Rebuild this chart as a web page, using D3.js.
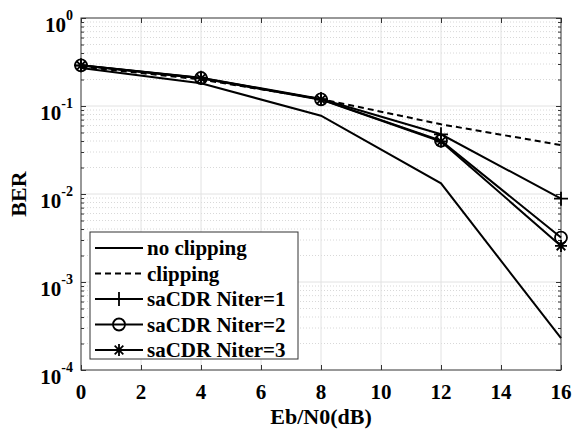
<!DOCTYPE html>
<html><head><meta charset="utf-8">
<script src="https://cdn.jsdelivr.net/npm/d3@7"></script>
<style>body{margin:0;background:#fff}svg{display:block}text{font-family:"Liberation Serif","Times New Roman",serif;font-weight:bold;fill:#000}</style>
</head><body><svg id="c" width="582" height="433" font-family="Liberation Serif"></svg>
<script>
const snr = [0, 4, 8, 12, 16];
const noClipping = [0.27, 0.181, 0.0776, 0.0132, 0.00023];
const clipping = [0.28, 0.200, 0.120, 0.062, 0.036];
const niter1 = [0.29, 0.210, 0.120, 0.0477, 0.00885];
const niter2 = [0.29, 0.208, 0.119, 0.0403, 0.0032];
const niter3 = [0.288, 0.206, 0.118, 0.0395, 0.00257];
const xTicks = [0, 2, 4, 6, 8, 10, 12, 14, 16];
const yExps = [0, -1, -2, -3, -4];
const seriesNames = ["no clipping", "clipping", "saCDR Niter=1", "saCDR Niter=2", "saCDR Niter=3"];

const L = 81, R = 561, T = 18, B = 370;
const svg = d3.select("#c");
const x = d3.scaleLinear().domain([0, 16]).range([L, R]);
const y = d3.scaleLog().domain([1e-4, 1]).range([B, T]);

// grid
const g = svg.append("g");
for (let e = -4; e < 0; e++) {
  for (let m = 2; m <= 9; m++) {
    const v = m * Math.pow(10, e);
    g.append("line").attr("x1", L).attr("x2", R).attr("y1", y(v)).attr("y2", y(v))
      .attr("stroke", "#d8d8d8").attr("stroke-width", 1).attr("stroke-dasharray", "1,2");
  }
}
xTicks.forEach(t => {
  if (t > 0 && t < 16) g.append("line").attr("x1", x(t)).attr("x2", x(t)).attr("y1", T).attr("y2", B)
    .attr("stroke", "#e2e2e2").attr("stroke-width", 1);
});
yExps.forEach(e => {
  if (e < 0 && e > -4) g.append("line").attr("x1", L).attr("x2", R).attr("y1", y(Math.pow(10, e))).attr("y2", y(Math.pow(10, e)))
    .attr("stroke", "#e2e2e2").attr("stroke-width", 1);
});

// axes with inward ticks
const axB = d3.axisBottom(x).tickValues(xTicks).tickSize(-5).tickFormat("");
const axT = d3.axisTop(x).tickValues(xTicks).tickSize(-5).tickFormat("");
svg.append("g").attr("transform", `translate(0,${B})`).call(axB);
svg.append("g").attr("transform", `translate(0,${T})`).call(axT);
const minorVals = [];
for (let e = -4; e < 0; e++) for (let m = 2; m <= 9; m++) minorVals.push(m * Math.pow(10, e));
const majorVals = yExps.map(e => Math.pow(10, e));
svg.append("g").attr("transform", `translate(${L},0)`).call(d3.axisLeft(y).tickValues(majorVals).tickSize(-5).tickFormat(""));
svg.append("g").attr("transform", `translate(${L},0)`).call(d3.axisLeft(y).tickValues(minorVals).tickSize(-3).tickFormat(""));
svg.append("g").attr("transform", `translate(${R},0)`).call(d3.axisRight(y).tickValues(majorVals).tickSize(-5).tickFormat(""));
svg.append("g").attr("transform", `translate(${R},0)`).call(d3.axisRight(y).tickValues(minorVals).tickSize(-3).tickFormat(""));
svg.selectAll(".tick line").attr("stroke", "#333");
svg.selectAll(".domain").remove();
svg.append("rect").attr("x", L).attr("y", T).attr("width", R - L).attr("height", B - T)
  .attr("fill", "none").attr("stroke", "#333").attr("stroke-width", 1);

// tick labels
xTicks.forEach(t => {
  svg.append("text").attr("x", x(t)).attr("y", B + 29).attr("text-anchor", "middle")
    .attr("font-size", 21).text(t);
});
yExps.forEach(e => {
  const t = svg.append("text").attr("x", L - 8).attr("y", y(Math.pow(10, e)) + 14).attr("text-anchor", "end").attr("font-size", 21);
  t.append("tspan").text("10");
  t.append("tspan").attr("dy", -12).attr("font-size", 14).text(e);
});
svg.append("text").attr("x", (L + R) / 2).attr("y", 424).attr("text-anchor", "middle").attr("font-size", 22).text("Eb/N0(dB)");
svg.append("text").attr("transform", `translate(26,${(T + B) / 2}) rotate(-90)`).attr("text-anchor", "middle").attr("font-size", 22).text("BER");

// lines
const line = d3.line().x((d, i) => x(snr[i])).y(d => y(d));
const allSeries = [noClipping, clipping, niter1, niter2, niter3];
const dashes = [null, "6,4", null, null, null];
allSeries.forEach((s, k) => {
  svg.append("path").attr("d", line(s)).attr("fill", "none").attr("stroke", "#000")
    .attr("stroke-width", 2).attr("stroke-dasharray", dashes[k]);
});

function marker(sel, type, cx, cy) {
  if (type === "plus") {
    sel.append("path").attr("d", `M${cx - 7},${cy}H${cx + 7}M${cx},${cy - 7}V${cy + 7}`)
      .attr("stroke", "#000").attr("stroke-width", 1.8).attr("fill", "none");
  } else if (type === "circle") {
    sel.append("circle").attr("cx", cx).attr("cy", cy).attr("r", 6)
      .attr("stroke", "#000").attr("stroke-width", 1.8).attr("fill", "none");
  } else if (type === "star") {
    const r = 6, d = r * 0.72;
    sel.append("path").attr("d", `M${cx - r},${cy}H${cx + r}M${cx},${cy - r}V${cy + r}M${cx - d},${cy - d}L${cx + d},${cy + d}M${cx - d},${cy + d}L${cx + d},${cy - d}`)
      .attr("stroke", "#000").attr("stroke-width", 1.8).attr("fill", "none");
  }
}
const markerTypes = [null, null, "plus", "circle", "star"];
allSeries.forEach((s, k) => {
  if (!markerTypes[k]) return;
  s.forEach((v, i) => marker(svg, markerTypes[k], x(snr[i]), y(v)));
});

// legend
const lg = svg.append("g");
lg.append("rect").attr("x", 90).attr("y", 232).attr("width", 208).attr("height", 127)
  .attr("fill", "#fff").attr("stroke", "#333").attr("stroke-width", 1);
seriesNames.forEach((n, k) => {
  const yy = 248 + k * 25.5;
  lg.append("line").attr("x1", 95).attr("x2", 143).attr("y1", yy).attr("y2", yy)
    .attr("stroke", "#000").attr("stroke-width", 2).attr("stroke-dasharray", dashes[k]);
  if (markerTypes[k]) marker(lg, markerTypes[k], 119, yy);
  lg.append("text").attr("x", 147).attr("y", yy + 7).attr("font-size", 21).text(n);
});
</script></body></html>
